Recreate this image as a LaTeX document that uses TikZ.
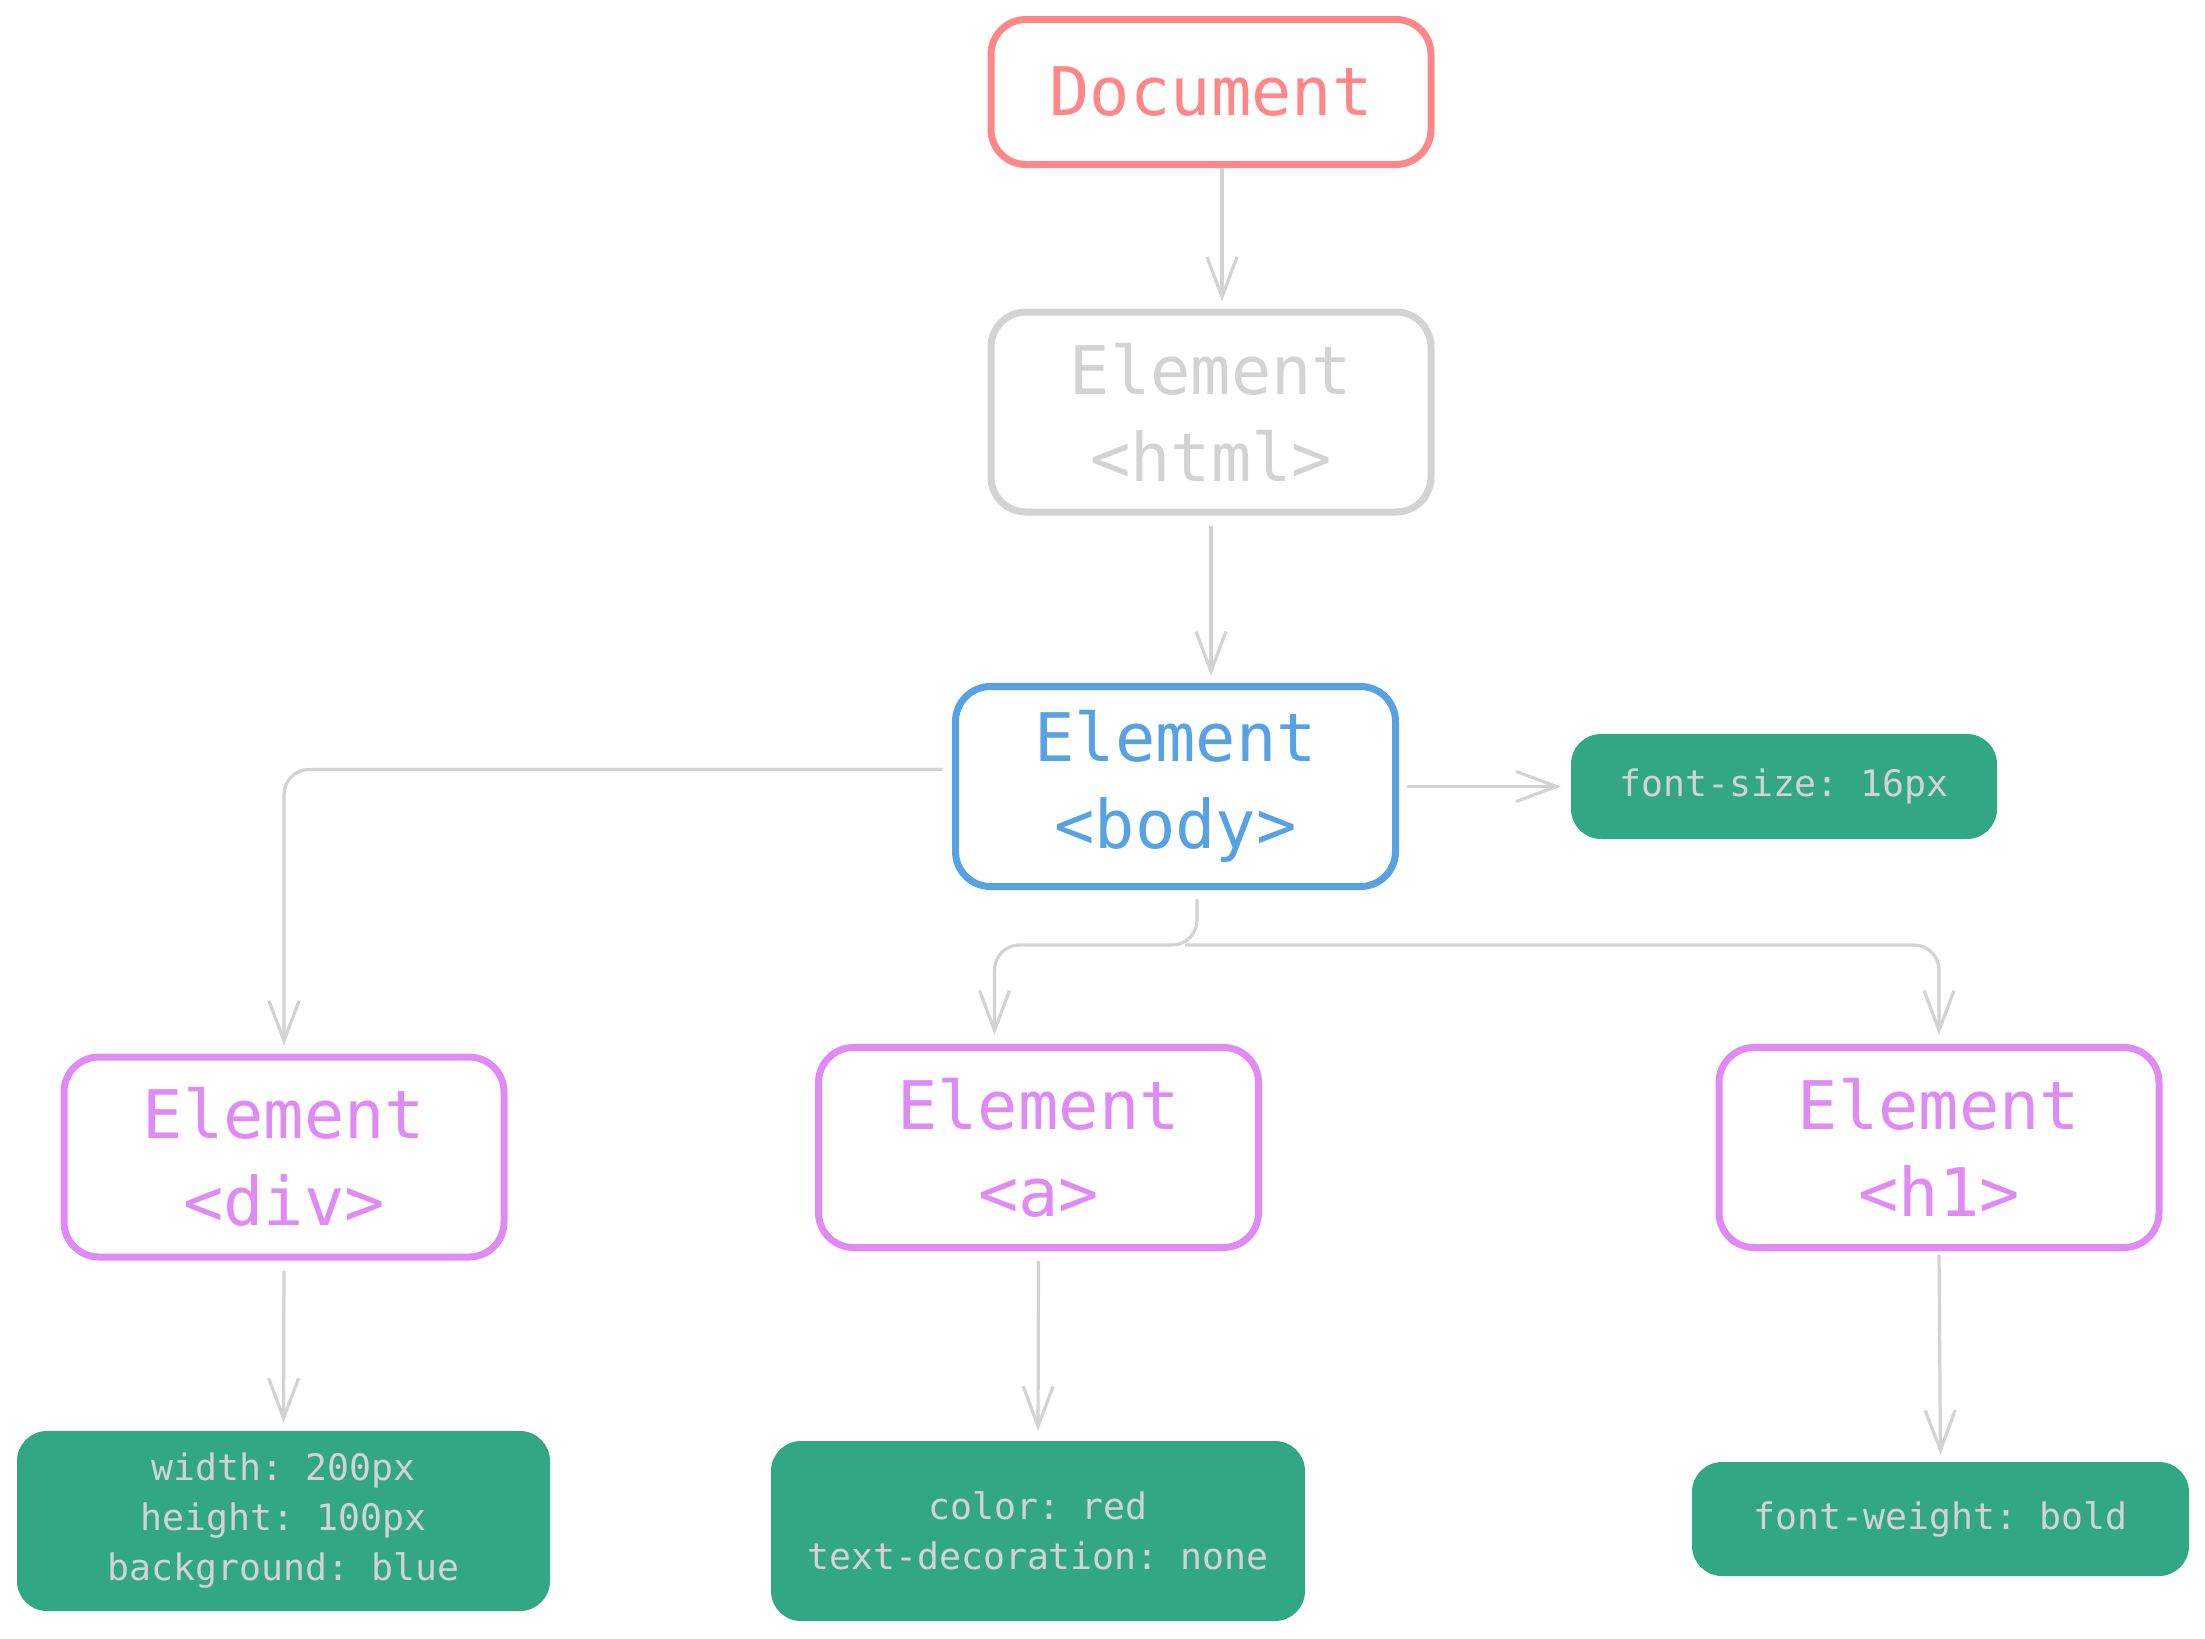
\documentclass[tikz,border=0pt]{standalone}
\usepackage{fontspec}
\setmonofont{DejaVu Sans Mono}
\usetikzlibrary{arrows.meta}
\definecolor{cred}{HTML}{FF8787}
\definecolor{cgray}{HTML}{D3D3D3}
\definecolor{cblue}{HTML}{57A2E3}
\definecolor{cpurple}{HTML}{E08AF5}
\definecolor{cgreen}{HTML}{32A783}
\begin{document}
\begin{tikzpicture}[x=1pt,y=-1pt,
  elbox/.style={draw, line width=7pt, rounded corners=35pt, fill=white,
    minimum width=440pt, minimum height=200pt, align=center, inner sep=0pt,
    font=\ttfamily\fontsize{67}{87}\selectfont},
  propbox/.style={fill=cgreen, rounded corners=30pt, align=center, inner sep=0pt,
    text=cgray, font=\ttfamily\fontsize{36.5}{50}\selectfont},
  conn/.style={draw=cgray, line width=3.2pt, rounded corners=25pt,
    -{Straight Barb[length=40pt,width=30pt]}},
]
\useasboundingbox (0,0) rectangle (2205,1638);
\fill[white] (0,0) rectangle (2205,1638);

\node[elbox, draw=cred, text=cred, minimum height=145pt] (doc) at (1211,92) {Document};
\node[elbox, draw=cgray, text=cgray] (html) at (1211,412) {Element\\<html>};
\node[elbox, draw=cblue, text=cblue] (body) at (1175.5,786.5) {Element\\<body>};
\node[propbox, minimum width=426pt, minimum height=105pt] (fs) at (1784,786.5) {font-size: 16px};
\node[elbox, draw=cpurple, text=cpurple] (div) at (284,1157) {Element\\<div>};
\node[elbox, draw=cpurple, text=cpurple] (a) at (1038.5,1147.5) {Element\\<a>};
\node[elbox, draw=cpurple, text=cpurple] (h1) at (1939,1147.5) {Element\\<h1>};
\node[propbox, minimum width=533pt, minimum height=180pt] (divp) at (283.5,1521) {width: 200px\\height: 100px\\background: blue};
\node[propbox, minimum width=534pt, minimum height=180pt] (ap) at (1038,1531) {color: red\\text-decoration: none};
\node[propbox, minimum width=497pt, minimum height=114pt] (h1p) at (1940.5,1519) {font-weight: bold};

\draw[conn, shorten >=7pt] ([xshift=11pt]doc.south) -- ([xshift=11pt]html.north);
\draw[conn, shorten <=10pt, shorten >=7pt] (html.south) -- (html.south |- body.north);
\draw[conn, shorten <=10pt, shorten >=8pt] ([yshift=17pt]body.west) -| (div.north);
\draw[conn, shorten <=8pt, shorten >=10pt] (body.east) -- (fs.west);
\coordinate (split) at (1197,945);
\draw[conn, shorten <=9pt, shorten >=9pt] ([xshift=21.5pt]body.south) -- (split) -| ([xshift=-44pt]a.north);
\draw[conn, shorten >=9pt] ([xshift=-12pt]split) -| (h1.north);
\draw[conn, shorten <=10pt, shorten >=8pt] (div.south) -- (divp.north);
\draw[conn, shorten <=10pt, shorten >=10pt] (a.south) -- (ap.north);
\draw[conn, shorten <=4pt, shorten >=7pt] (h1.south) -- (h1p.north);
\end{tikzpicture}
\end{document}
